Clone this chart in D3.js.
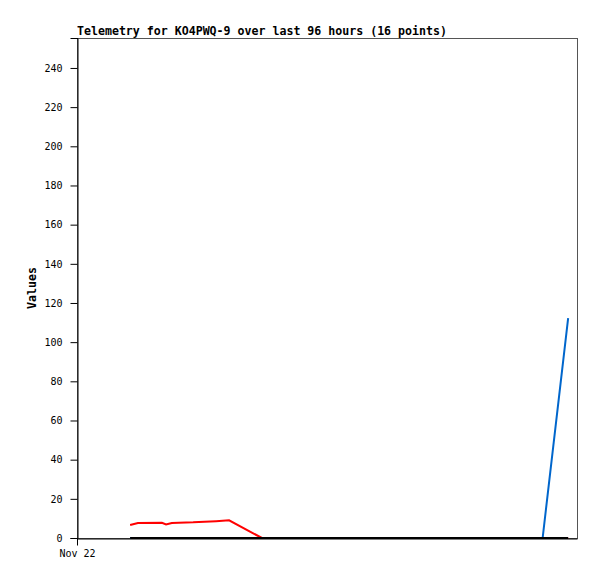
<!DOCTYPE html>
<html>
<head>
<meta charset="utf-8">
<script src="https://cdn.jsdelivr.net/npm/d3@7"></script>
<style>
  body { margin: 0; background: #fff; }
  svg text { font-family: "DejaVu Sans Mono", monospace; }
</style>
</head>
<body>
<svg id="chart" width="597" height="579"></svg>
<script>
// ---- data ----
const times = [
  "2024-11-22T10:12", "2024-11-22T11:42", "2024-11-22T16:18", "2024-11-22T17:06",
  "2024-11-22T18:12", "2024-11-22T22:18", "2024-11-23T02:42", "2024-11-23T05:12",
  "2024-11-23T11:30", "2024-11-23T18:48", "2024-11-24T04:24", "2024-11-24T14:00",
  "2024-11-24T23:36", "2024-11-25T09:12", "2024-11-25T17:24", "2024-11-25T22:18"
];
const zeroValues = [0, 0, 0, 0, 0, 0, 0, 0, 0, 0, 0, 0, 0, 0, 0, 0];
const redValues = [6.6, 7.6, 7.8, 6.9, 7.7, 8.0, 8.6, 9.0, 0, 0, 0, 0, 0, 0, 0, 0];
const blueValues = [0, 0, 0, 0, 0, 0, 0, 0, 0, 0, 0, 0, 0, 0, 0, 112.3];
const yTicks = [0, 20, 40, 60, 80, 100, 120, 140, 160, 180, 200, 220, 240];
const xTickLabels = ["Nov 22"];
const startTime = "2024-11-22T00:00";
const endTime = "2024-11-26T00:00";
const yMax = 255.3;
const titleText = "Telemetry for KO4PWQ-9 over last 96 hours (16 points)";

const parse = d3.isoParse;
const margin = { left: 77, top: 38, right: 20, bottom: 41 };
const width = 597, height = 579;
const svg = d3.select("#chart");

const x = d3.scaleTime()
  .domain([parse(startTime), parse(endTime)])
  .range([margin.left, width - margin.right]);
const y = d3.scaleLinear()
  .domain([0, yMax])
  .range([height - margin.bottom, margin.top]);

// frame
svg.append("rect")
  .attr("x", margin.left + 0.5)
  .attr("y", margin.top + 0.5)
  .attr("width", width - margin.right - margin.left)
  .attr("height", height - margin.bottom - margin.top)
  .attr("fill", "none")
  .attr("stroke", "#555")
  .attr("stroke-width", 1);

// y axis
const yAxis = d3.axisLeft(y).tickValues(yTicks).tickSize(7).tickPadding(8);
const gy = svg.append("g")
  .attr("transform", `translate(${margin.left + 0.5},0)`)
  .call(yAxis);
gy.select(".domain").attr("stroke", "#000");
gy.selectAll("text").attr("font-size", 10).attr("fill", "#000");

// x axis
const xAxis = d3.axisBottom(x)
  .tickValues([parse(startTime)])
  .tickFormat((d, i) => xTickLabels[i])
  .tickSize(7).tickSizeOuter(0).tickPadding(4);
const gx = svg.append("g")
  .attr("transform", `translate(0,${height - margin.bottom + 0.5})`)
  .call(xAxis);
gx.select(".domain").attr("stroke", "#000");
gx.selectAll("text").attr("font-size", 10).attr("fill", "#000");

// series (black zero line drawn last so it hides zero runs)
const line = d3.line()
  .x((d, i) => x(parse(times[i])))
  .y(d => y(d));

[
  { values: redValues, color: "#ff0000" },
  { values: blueValues, color: "#0066cc" },
  { values: zeroValues, color: "#000000" }
].forEach(s => {
  svg.append("path")
    .datum(s.values)
    .attr("fill", "none")
    .attr("stroke", s.color)
    .attr("stroke-width", 2)
    .attr("d", line);
});

// title
svg.append("text")
  .attr("x", margin.left)
  .attr("y", 35)
  .attr("font-size", 11.6)
  .attr("font-weight", "bold")
  .text(titleText);

// y label
svg.append("text")
  .attr("transform", `translate(36,288) rotate(-90)`)
  .attr("text-anchor", "middle")
  .attr("font-size", 11.6)
  .attr("font-weight", "bold")
  .text("Values");
</script>
</body>
</html>
